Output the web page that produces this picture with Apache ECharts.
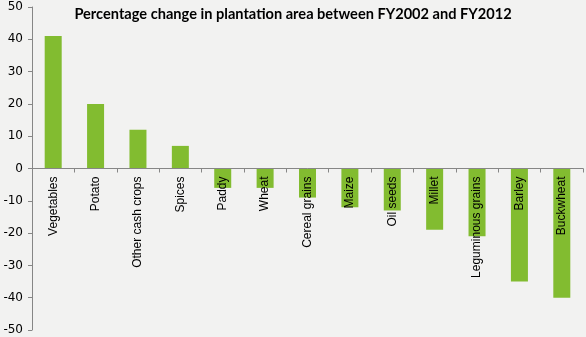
<!DOCTYPE html>
<html>
<head>
<meta charset="utf-8">
<script src="https://cdn.jsdelivr.net/npm/echarts@6/dist/echarts.min.js"></script>
<style>
html,body{margin:0;padding:0;background:#f2f2f1;}
#c{width:586px;height:337px;}
</style>
</head>
<body>
<div id="c"></div>
<script>
const titleText = 'Percentage change in plantation area between FY2002 and FY2012';
const categories = ['Vegetables','Potato','Other cash crops','Spices','Paddy','Wheat','Cereal grains','Maize','Oil seeds','Millet','Leguminous grains','Barley','Buckwheat'];
const values = [41, 20, 12, 7, -6, -6, -9, -12, -13, -19, -21, -35, -40];
const yTicks = [-50, -40, -30, -20, -10, 0, 10, 20, 30, 40, 50];

const chart = echarts.init(document.getElementById('c'));
chart.setOption({
  backgroundColor: '#f2f2f1',
  animation: false,
  title: {
    text: titleText,
    left: 'center',
    top: 2,
    textStyle: {fontFamily: 'Lato', fontWeight: 'bold', fontSize: 14.6, color: '#000'}
  },
  grid: {left: 32, right: 3, top: 7, bottom: 7, containLabel: false, outerBoundsMode: 'none'},
  xAxis: {
    type: 'category',
    data: categories,
    offset: 0,
    z: 10,
    axisLine: {onZero: false, lineStyle: {color: '#868686', width: 1}},
    axisTick: {show: true, length: 4, inside: false, alignWithLabel: false, lineStyle: {color: '#868686'}},
    axisLabel: {rotate: 90, margin: 8, interval: 0, fontFamily: 'Liberation Sans', fontSize: 12, color: '#000'},
    splitLine: {show: false}
  },
  yAxis: {
    type: 'value',
    min: yTicks[0],
    max: yTicks[yTicks.length - 1],
    interval: 10,
    axisLine: {show: true, lineStyle: {color: '#868686', width: 1}},
    axisTick: {show: true, length: 4, lineStyle: {color: '#868686'}},
    axisLabel: {margin: 9, fontFamily: 'DejaVu Sans', fontSize: 12, color: '#000'},
    splitLine: {show: false}
  },
  series: [{
    type: 'bar',
    data: values,
    barWidth: 17,
    z: 1,
    itemStyle: {color: '#82bc30'}
  }]
});
// Move the category axis (line, ticks and labels) up to the zero line
const zeroPx = chart.convertToPixel({yAxisIndex: 0}, 0);
const bottomPx = chart.convertToPixel({yAxisIndex: 0}, yTicks[0]);
chart.setOption({xAxis: {offset: -(bottomPx - zeroPx)}});
</script>
</body>
</html>
